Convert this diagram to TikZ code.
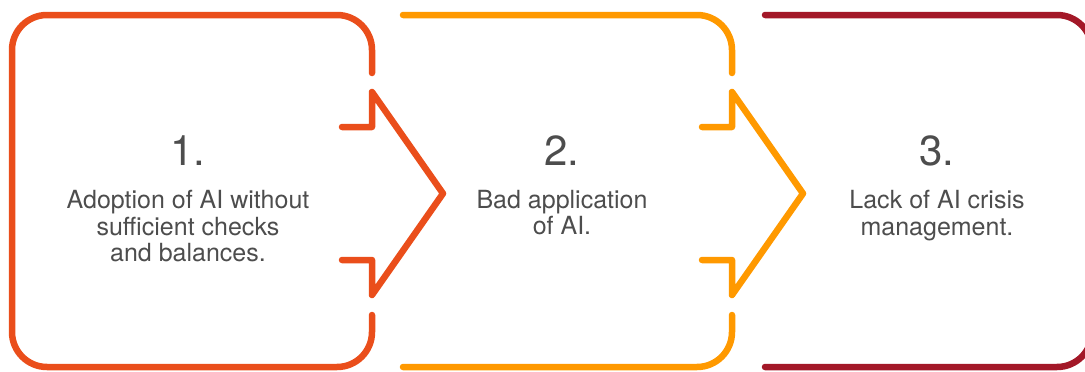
\documentclass[tikz,border=0pt]{standalone}
\usepackage{fontspec}
\setmainfont{TeX Gyre Heros}
\usetikzlibrary{positioning}

\definecolor{stepone}{RGB}{234,78,27}
\definecolor{steptwo}{RGB}{255,153,0}
\definecolor{stepthree}{RGB}{163,24,40}
\definecolor{txtgray}{RGB}{77,77,77}

\begin{document}
\begin{tikzpicture}[x=1pt, y=-1pt,
  frame/.style={line width=6.5pt, line cap=round, rounded corners=35pt},
  chevron/.style={line width=6.5pt, line cap=round, line join=round},
  num/.style={inner sep=0pt, text=txtgray, font=\fontsize{42}{42}\selectfont},
  desc/.style={inner sep=0pt, align=center, text=txtgray, font=\fontsize{25}{26.5}\selectfont}
]
\useasboundingbox (0,0) rectangle (1085,372);
\clip (0,0) rectangle (1085,372);

% panel 1
\draw[frame, stepone] (372,73) -- (372,15) -- (12,15) -- (12,367) -- (372,367) -- (372,315);
\draw[chevron, stepone] (342,127) -- (372,127) -- (372,92) -- (443,193.5) -- (372,295) -- (372,260) -- (342,260);

% panel 2
\draw[frame, steptwo] (403,15) -- (732,15) -- (732,73);
\draw[frame, steptwo] (732,315) -- (732,367) -- (403,367);
\draw[chevron, steptwo] (702,127) -- (732,127) -- (732,92) -- (803,193.5) -- (732,295) -- (732,260) -- (702,260);

% panel 3
\draw[frame, stepthree] (765,15) -- (1092,15) -- (1092,367) -- (765,367);

% texts
\node[num, anchor=base] (n1) at (188,165) {1.};
\node[desc, anchor=north] (d1) at (188,190) {Adoption of AI without\\sufficient checks\\and balances.};

\node[num, anchor=base] (n2) at (562,165) {2.};
\node[desc, anchor=north] (d2) at (562,190) {Bad application\\of AI.};

\node[num, anchor=base] (n3) at (937,165) {3.};
\node[desc, anchor=north] (d3) at (937,190) {Lack of AI crisis\\management.};
\end{tikzpicture}
\end{document}
